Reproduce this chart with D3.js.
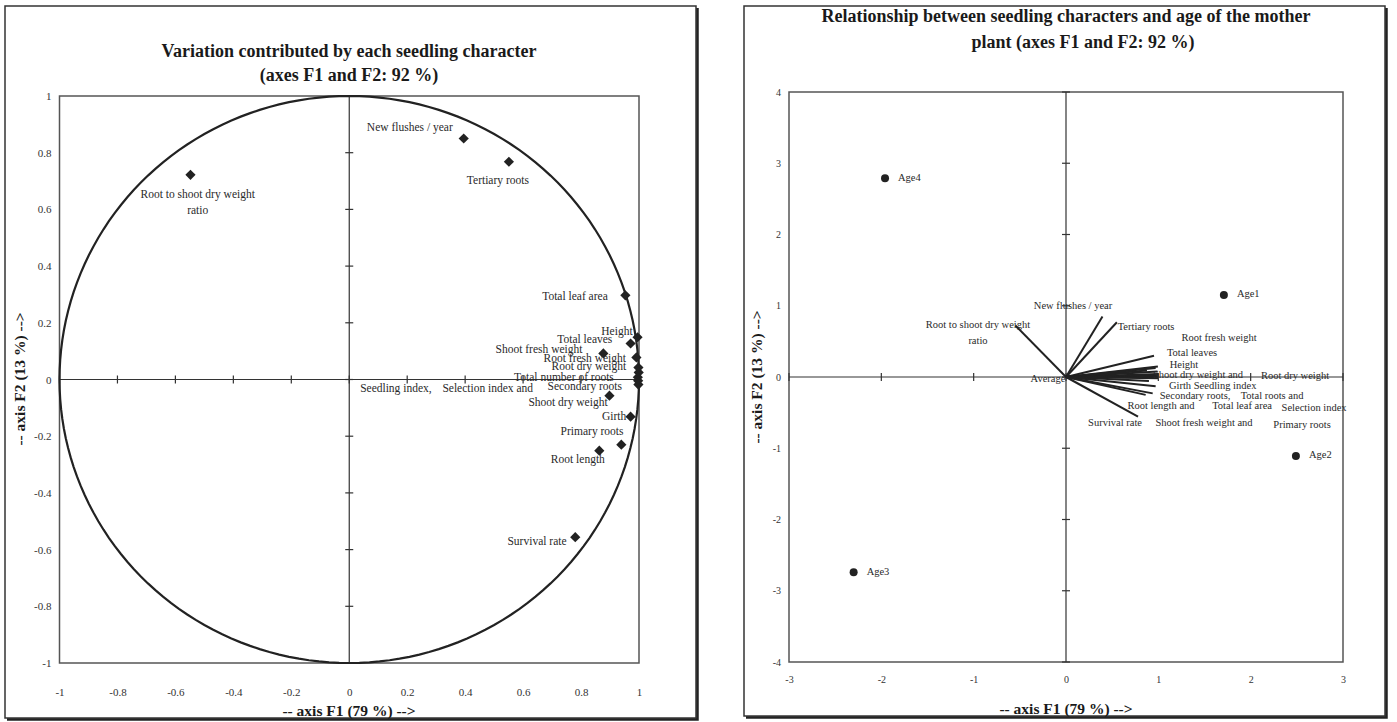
<!DOCTYPE html>
<html lang="en">
  <head>
    <meta charset="UTF-8" />
    <title>Seedling characters PCA</title>
    <script src="https://d3js.org/d3.v7.min.js"></script>
    <style>
      body {
        margin: 0;
        background: #fff;
      }
      svg {
        display: block;
        font-family: "Liberation Serif", "DejaVu Serif", serif;
      }
      .title {
        font-weight: bold;
        font-size: 18px;
        text-anchor: middle;
        fill: #1a1a1a;
      }
      .axis-title {
        font-weight: bold;
        font-size: 15.5px;
        text-anchor: middle;
        fill: #1a1a1a;
      }
      .tick text {
        font-family: "Liberation Serif", serif;
        font-size: 10px;
        fill: #333;
      }
      .left .tick text {
        font-size: 11px;
      }
      .lbl {
        font-size: 10.5px;
        text-anchor: middle;
        dominant-baseline: middle;
        fill: #2a2a2a;
      }
      .left .lbl {
        font-size: 11.5px;
      }
    </style>
  </head>
  <body>
    <svg id="chart" width="1397" height="722"></svg>

    <script>
      // ---- data ----
      // variable correlations with F1 / F2
      const varNames = [
        "Root to shoot dry weight ratio", "New flushes / year", "Tertiary roots",
        "Total leaf area", "Height", "Total leaves", "Shoot fresh weight",
        "Root fresh weight", "Root dry weight", "Total number of roots",
        "Seedling index", "Selection index", "Secondary roots", "Shoot dry weight",
        "Girth", "Primary roots", "Root length", "Survival rate"
      ];
      const varF1 = [-0.548, 0.395, 0.551, 0.953, 0.995, 0.971, 0.877, 0.991, 0.998, 0.999,
        0.996, 0.997, 0.998, 0.898, 0.971, 0.939, 0.863, 0.78];
      const varF2 = [0.722, 0.85, 0.768, 0.297, 0.149, 0.127, 0.092, 0.078, 0.042, 0.025,
        0.008, -0.004, -0.018, -0.057, -0.131, -0.23, -0.251, -0.556];

      // labels of the correlation circle (text lines, position in F1/F2 units)
      const circleLabels = [
        { t: ["Root to shoot dry weight", "ratio"], x: -0.523, y: 0.651 },
        { t: ["New flushes / year"], x: 0.209, y: 0.887 },
        { t: ["Tertiary roots"], x: 0.513, y: 0.7 },
        { t: ["Total leaf area"], x: 0.779, y: 0.291 },
        { t: ["Height"], x: 0.924, y: 0.168 },
        { t: ["Total leaves"], x: 0.813, y: 0.139 },
        { t: ["Shoot fresh weight"], x: 0.655, y: 0.104 },
        { t: ["Root fresh weight"], x: 0.813, y: 0.072 },
        { t: ["Root dry weight"], x: 0.827, y: 0.044 },
        { t: ["Total number of roots"], x: 0.741, y: 0.005 },
        { t: ["Seedling index,"], x: 0.161, y: -0.034 },
        { t: ["Selection index and"], x: 0.478, y: -0.034 },
        { t: ["Secondary roots"], x: 0.813, y: -0.026 },
        { t: ["Shoot dry weight"], x: 0.755, y: -0.083 },
        { t: ["Girth"], x: 0.914, y: -0.132 },
        { t: ["Primary roots"], x: 0.838, y: -0.185 },
        { t: ["Root length"], x: 0.789, y: -0.284 },
        { t: ["Survival rate"], x: 0.648, y: -0.573 }
      ];

      // observations (age of mother plant)
      const ageNames = ["Age1", "Age2", "Age3", "Age4"];
      const ageF1 = [1.71, 2.49, -2.3, -1.96];
      const ageF2 = [1.15, -1.11, -2.74, 2.79];

      // labels of the biplot vectors
      const biplotLabels = [
        { t: ["Root to shoot dry weight", "ratio"], x: -0.953, y: 0.716 },
        { t: ["New flushes / year"], x: 0.076, y: 0.982 },
        { t: ["Tertiary roots"], x: 0.867, y: 0.688 },
        { t: ["Root fresh weight"], x: 1.658, y: 0.533 },
        { t: ["Total leaves"], x: 1.365, y: 0.323 },
        { t: ["Height"], x: 1.278, y: 0.154 },
        { t: ["Shoot dry weight  and"], x: 1.43, y: 0.014 },
        { t: ["Root dry weight"], x: 2.481, y: 0.0 },
        { t: ["Girth"], x: 1.235, y: -0.14 },
        { t: ["Seedling index"], x: 1.723, y: -0.14 },
        { t: ["Secondary roots,"], x: 1.398, y: -0.281 },
        { t: ["Total roots and"], x: 2.232, y: -0.281 },
        { t: ["Root length and"], x: 1.029, y: -0.421 },
        { t: ["Total leaf area"], x: 1.907, y: -0.421 },
        { t: ["Selection index"], x: 2.687, y: -0.449 },
        { t: ["Survival rate"], x: 0.531, y: -0.66 },
        { t: ["Shoot fresh weight and"], x: 1.495, y: -0.66 },
        { t: ["Primary roots"], x: 2.557, y: -0.688 },
        { t: ["Average"], x: -0.195, y: -0.042 }
      ];

      const leftTicks = [-1, -0.8, -0.6, -0.4, -0.2, 0, 0.2, 0.4, 0.6, 0.8, 1];
      const rightXTicks = [-3, -2, -1, 0, 1, 2, 3];
      const rightYTicks = [-4, -3, -2, -1, 0, 1, 2, 3, 4];

      const svg = d3.select("#chart");
      const ink = "#222";

      // ---- panel frames ----
      function frame(x0, y0, w, h) {
        svg.append("rect")
          .attr("x", x0).attr("y", y0).attr("width", w).attr("height", h)
          .attr("fill", "none").attr("stroke", "#333").attr("stroke-width", 1.5);
        // heavier right / bottom edge like the scanned shadow
        svg.append("path")
          .attr("d", `M${x0 + w + 1.5},${y0 + 2}V${y0 + h + 1.5}H${x0 + 2}`)
          .attr("fill", "none").attr("stroke", "#222").attr("stroke-width", 2.5);
      }
      frame(5, 6, 691, 712);
      frame(744, 6, 641, 710);

      // ---- shared helpers ----
      function plotBox(g, x, y) {
        const [x0, x1] = x.range(), [y1, y0] = y.range();
        g.append("rect")
          .attr("x", x0).attr("y", y0).attr("width", x1 - x0).attr("height", y1 - y0)
          .attr("fill", "none").attr("stroke", "#555").attr("stroke-width", 1.5);
      }

      function zeroAxes(g, x, y, xt, yt) {
        const [x0, x1] = x.range(), [y1, y0] = y.range();
        g.append("line").attr("x1", x0).attr("x2", x1).attr("y1", y(0)).attr("y2", y(0))
          .attr("stroke", "#333").attr("stroke-width", 1.2);
        g.append("line").attr("x1", x(0)).attr("x2", x(0)).attr("y1", y0).attr("y2", y1)
          .attr("stroke", "#333").attr("stroke-width", 1.2);
        // cross ticks on the zero lines
        g.append("g").selectAll("line").data(xt).join("line")
          .attr("x1", d => x(d)).attr("x2", d => x(d))
          .attr("y1", y(0) - 4).attr("y2", y(0) + 4)
          .attr("stroke", "#333").attr("stroke-width", 1.2);
        g.append("g").selectAll("line").data(yt).join("line")
          .attr("y1", d => y(d)).attr("y2", d => y(d))
          .attr("x1", x(0) - 4).attr("x2", x(0) + 4)
          .attr("stroke", "#333").attr("stroke-width", 1.2);
      }

      function tickLabels(g, x, y, xt, yt, xPad, yPad) {
        const fmt = d => (d === 0 ? "0" : String(d));
        g.append("g")
          .attr("transform", `translate(0,${y.range()[0]})`)
          .call(d3.axisBottom(x).tickValues(xt).tickSize(0).tickPadding(xPad).tickFormat(fmt))
          .call(a => a.select(".domain").remove());
        g.append("g")
          .attr("transform", `translate(${x.range()[0]},0)`)
          .call(d3.axisLeft(y).tickValues(yt).tickSize(0).tickPadding(yPad).tickFormat(fmt))
          .call(a => a.select(".domain").remove());
      }

      function labels(g, x, y, list) {
        const t = g.append("g").selectAll("text").data(list).join("text")
          .attr("class", "lbl")
          .attr("x", d => x(d.x)).attr("y", d => y(d.y));
        t.selectAll("tspan").data(d => d.t.map((s, i) => ({ s, i, d }))).join("tspan")
          .attr("x", o => x(o.d.x))
          .attr("dy", o => (o.i === 0 ? 0 : 16))
          .text(o => o.s);
      }

      // ================= LEFT: correlation circle =================
      const xL = d3.scaleLinear().domain([-1, 1]).range([59.5, 639]);
      const yL = d3.scaleLinear().domain([-1, 1]).range([663, 96]);
      const gL = svg.append("g").attr("class", "left");

      plotBox(gL, xL, yL);
      zeroAxes(gL, xL, yL, leftTicks, leftTicks);

      const circle = d3.range(0, 361, 2).map(a => [Math.cos(a * Math.PI / 180), Math.sin(a * Math.PI / 180)]);
      gL.append("path")
        .datum(circle)
        .attr("d", d3.line().x(d => xL(d[0])).y(d => yL(d[1])).curve(d3.curveLinearClosed))
        .attr("fill", "none").attr("stroke", ink).attr("stroke-width", 2.2);

      tickLabels(gL, xL, yL, leftTicks, leftTicks, 25, 8);

      gL.append("g").selectAll("path").data(varNames).join("path")
        .attr("d", d3.symbol(d3.symbolSquare, 52))
        .attr("transform", (d, i) => `translate(${xL(varF1[i])},${yL(varF2[i])}) rotate(45)`)
        .attr("fill", ink);

      labels(gL, xL, yL, circleLabels);

      gL.append("text").attr("class", "title").attr("x", 349).attr("y", 57)
        .text("Variation contributed by each seedling character");
      gL.append("text").attr("class", "title").attr("x", 349).attr("y", 81)
        .text("(axes F1 and F2: 92 %)");
      gL.append("text").attr("class", "axis-title").attr("x", 349).attr("y", 716)
        .text("-- axis F1 (79 %) -->");
      gL.append("text").attr("class", "axis-title")
        .attr("transform", "translate(25,379) rotate(-90)")
        .text("-- axis F2 (13 %) -->");

      // ================= RIGHT: biplot =================
      const xR = d3.scaleLinear().domain([-3, 3]).range([789, 1343]);
      const yR = d3.scaleLinear().domain([-4, 4]).range([662, 92]);
      const gR = svg.append("g").attr("class", "right");

      plotBox(gR, xR, yR);
      zeroAxes(gR, xR, yR, rightXTicks, rightYTicks);
      tickLabels(gR, xR, yR, rightXTicks, rightYTicks, 14, 8);

      gR.append("g").selectAll("line").data(varNames).join("line")
        .attr("x1", xR(0)).attr("y1", yR(0))
        .attr("x2", (d, i) => xR(varF1[i])).attr("y2", (d, i) => yR(varF2[i]))
        .attr("stroke", ink).attr("stroke-width", 2);

      labels(gR, xR, yR, biplotLabels);

      gR.append("g").selectAll("circle").data(ageNames).join("circle")
        .attr("cx", (d, i) => xR(ageF1[i])).attr("cy", (d, i) => yR(ageF2[i]))
        .attr("r", 4).attr("fill", ink);
      gR.append("g").selectAll("text").data(ageNames).join("text")
        .attr("class", "lbl").style("text-anchor", "start")
        .attr("x", (d, i) => xR(ageF1[i]) + 13).attr("y", (d, i) => yR(ageF2[i]))
        .text(d => d);

      gR.append("text").attr("class", "title").attr("x", 1066).attr("y", 22)
        .text("Relationship between seedling characters and age of the mother");
      gR.append("text").attr("class", "title").attr("x", 1083).attr("y", 48)
        .text("plant (axes F1 and F2: 92 %)");
      gR.append("text").attr("class", "axis-title").attr("x", 1066).attr("y", 714)
        .text("-- axis F1 (79 %) -->");
      gR.append("text").attr("class", "axis-title")
        .attr("transform", "translate(762,377) rotate(-90)")
        .text("-- axis F2 (13 %) -->");
    </script>
  </body>
</html>
